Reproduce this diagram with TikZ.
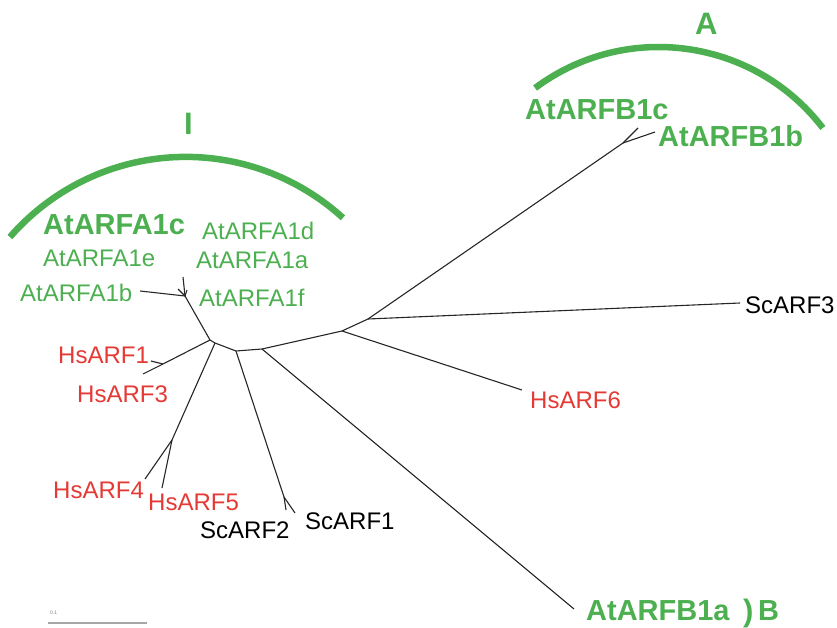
\documentclass[tikz,border=0pt]{standalone}
\usepackage{fontspec}
\setmainfont{Liberation Sans}
\definecolor{cladegreen}{RGB}{76,175,80}
\definecolor{hsred}{RGB}{229,57,53}
\begin{document}
\begin{tikzpicture}[x=1pt,y=-1pt,
  lbl/.style={inner sep=0pt, anchor=base west, font=\fontsize{24}{24}\selectfont},
  grn/.style={lbl, text=cladegreen},
  grnb/.style={inner sep=0pt, anchor=base west, font=\fontsize{29}{29}\selectfont\bfseries, text=cladegreen},
  cladelbl/.style={inner sep=0pt, anchor=base west, font=\fontsize{31}{31}\selectfont\bfseries, text=cladegreen},
  hs/.style={lbl, text=hsred},
  sc/.style={lbl, text=black},
  br/.style={draw=black!85, line width=1.1pt, line join=round},
  clade/.style={draw=cladegreen, line width=6.5pt}]
\useasboundingbox (0,0) rectangle (837,628);

% clade arcs
\draw[clade] (185.8,389.9) ++(-139:233) arc[start angle=-139, end angle=-47.6, radius=233];
\draw[clade] (658.7,253.9) ++(-126.7:206.9) arc[start angle=-126.7, end angle=-37.5, radius=206.9];
\node[cladelbl] (cA) at (695,35) {A};
\node[cladelbl] (cI) at (184,135) {I};

% labels
\node[grnb] (a1c) at (43,235) {AtARFA1c};
\node[grn] (a1d) at (202,240) {AtARFA1d};
\node[grn] (a1e) at (43,266) {AtARFA1e};
\node[grn] (a1a) at (196,268) {AtARFA1a};
\node[grn] (a1b) at (20,301) {AtARFA1b};
\node[grn] (a1f) at (199,306) {AtARFA1f};
\node[hs] (h1) at (58,363) {HsARF1};
\node[hs] (h3) at (77,402) {HsARF3};
\node[hs] (h4) at (53,498) {HsARF4};
\node[hs] (h5) at (148,510) {HsARF5};
\node[sc] (s2) at (200,538) {ScARF2};
\node[sc] (s1) at (305,529) {ScARF1};
\node[hs] (h6) at (530,408) {HsARF6};
\node[sc] (s3) at (745,313) {ScARF3};
\node[grnb] (b1c) at (525,120) {AtARFB1c};
\node[grnb] (b1b) at (658,147) {AtARFB1b};
\node[grnb] (b1a) at (586,620) {AtARFB1a};
\node[cladelbl] (paren) at (743,621) {)};
\node[grnb] (cB) at (758,620) {B};

% tree coordinates
\coordinate (j1) at (185,296);
\coordinate (la1b) at (140,291);
\coordinate (la1d) at (183,277);
\coordinate (ta) at (178,289);
\coordinate (tb) at (187,290);
\coordinate (j2) at (210,340);
\coordinate (k1) at (215,343);
\coordinate (k2) at (236,351);
\coordinate (k3) at (262,349);
\coordinate (k4) at (342,331);
\coordinate (k5) at (368,319);
\coordinate (j3) at (163,364);
\coordinate (lh1) at (151,361);
\coordinate (lh3) at (143,374);
\coordinate (j5) at (172,440);
\coordinate (lh4) at (145,479);
\coordinate (lh5) at (162,488);
\coordinate (j6) at (284,497);
\coordinate (ls2) at (286,510);
\coordinate (ls1) at (295,513);
\coordinate (lb1a) at (574,609);
\coordinate (lh6) at (522,390);
\coordinate (ls3) at (740,303);
\coordinate (j7) at (623,143);
\coordinate (lb1c) at (638,128);
\coordinate (lb1b) at (655,132);

% tree branches
\draw[br] (la1b) -- (j1);
\draw[br] (j1) -- (la1d);
\draw[br] (j1) -- (ta);
\draw[br] (j1) -- (tb);
\draw[br] (j1) -- (j2);
\draw[br] (j2) -- (j3) -- (lh3);
\draw[br] (j3) -- (lh1);
\draw[br] (j2) -- (k1) -- (k2) -- (k3) -- (k4) -- (k5) -- (ls3);
\draw[br] (k1) -- (j5) -- (lh4);
\draw[br] (j5) -- (lh5);
\draw[br] (k2) -- (j6) -- (ls2);
\draw[br] (j6) -- (ls1);
\draw[br] (k3) -- (lb1a);
\draw[br] (k4) -- (lh6);
\draw[br] (k5) -- (j7) -- (lb1c);
\draw[br] (j7) -- (lb1b);

% scale bar
\coordinate (sb1) at (48,623);
\coordinate (sb2) at (147,623);
\draw[gray!70, line width=1.5pt] (sb1) -- (sb2);
\node[inner sep=0pt, anchor=base west, font=\fontsize{5}{5}\selectfont, text=gray] (sbl) at (50,614) {0.1};
\end{tikzpicture}
\end{document}
